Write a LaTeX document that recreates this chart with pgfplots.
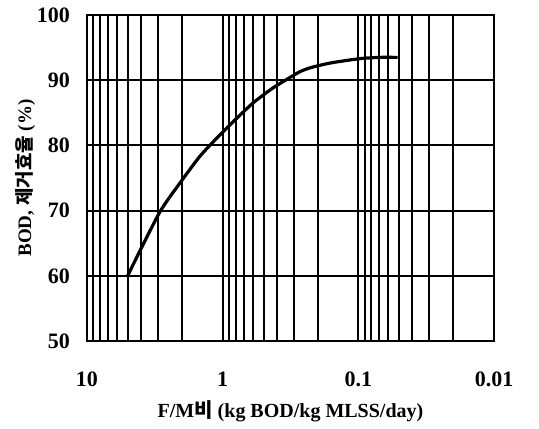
\documentclass[border=0pt]{standalone}
\usepackage{fontspec}
\setmainfont{Liberation Serif}
\newfontfamily\kr{Noto Sans CJK KR}
\usepackage{pgfplots}
\pgfplotsset{compat=1.18}
\begin{document}
\begin{tikzpicture}
\begin{axis}[
    at={(0,0)}, anchor=south west,
    scale only axis,
    width=203.5pt, height=163pt,
    xmode=log, x dir=reverse,
    xmin=0.01, xmax=10,
    ymin=50, ymax=100,
    xtick={0.01,0.1,1,10},
    xticklabels={0.01,0.1,1,10},
    ytick={50,60,70,80,90,100},
    grid=both,
    major grid style={black, line width=1pt},
    minor grid style={black, line width=1pt},
    minor y tick num=0,
    axis line style={black, line width=1.3pt},
    major tick length=0pt, minor tick length=0pt,
    /pgf/number format/assume math mode=true,
    tick label style={font=\bfseries\fontsize{11}{13}\selectfont},
    xticklabel style={yshift=-12pt},
    yticklabel style={xshift=-5pt},
    xlabel={\bfseries F/M{\kr\bfseries 비} (kg BOD/kg MLSS/day)},
    ylabel={\bfseries BOD, {\kr\bfseries 제거효율} (\%)},
    label style={font=\bfseries\fontsize{10}{12}\selectfont},
    xlabel style={yshift=0pt},
    ylabel style={yshift=-6pt, font=\bfseries\fontsize{9.5}{11}\selectfont},
]
\addplot[black, line width=1.6pt, smooth, tension=0.4] coordinates {
    (5.02,60) (2.94,69.6) (2.07,74.2) (1.476,78.3) (1.084,81.3)
    (0.84,83.6) (0.598,86.5) (0.427,88.8) (0.32,90.4) (0.27,91.3)
    (0.235,91.8) (0.2,92.2) (0.155,92.7) (0.098,93.3) (0.07,93.5) (0.0514,93.5)
};
\end{axis}
\useasboundingbox (-43.5pt,-39.5pt) rectangle (226pt,170.5pt);
\end{tikzpicture}
\end{document}
